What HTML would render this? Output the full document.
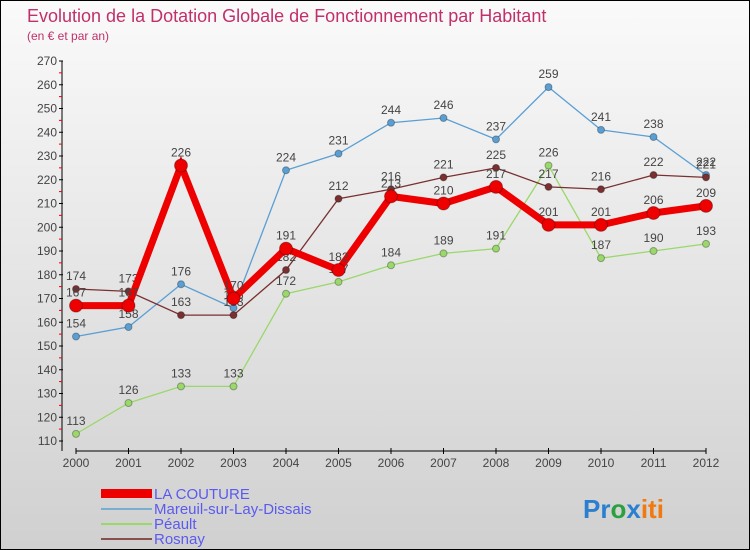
<!DOCTYPE html>
<html><head><meta charset="utf-8"><style>
body{margin:0}
#c{width:750px;height:550px;position:relative;box-sizing:border-box;border:1px solid #000;background:linear-gradient(#fafafa,#d0d0d0);font-family:"Liberation Sans",sans-serif;overflow:hidden}
svg text{font-family:"Liberation Sans",sans-serif}
</style></head><body>
<div id="c">
<svg id="s" width="750" height="550">
<text x="26" y="21" font-size="18" fill="#c0306a">Evolution de la Dotation Globale de Fonctionnement par Habitant</text>
<text x="26" y="39" font-size="12" fill="#c0306a">(en € et par an)</text>
<g id="axes"></g><g id="plot"></g>
<g font-size="15" fill="#5a5af0">
<rect x="100" y="488" width="51" height="9" fill="#e00"/>
<text x="153" y="498" fill="#5a5af0">LA COUTURE</text>
<rect x="100" y="507" width="51" height="2" fill="#7aaed0"/>
<text x="153" y="513" fill="#5a5af0">Mareuil-sur-Lay-Dissais</text>
<rect x="100" y="522" width="51" height="2" fill="#9ad86a"/>
<text x="153" y="528" fill="#5a5af0">Péault</text>
<rect x="100" y="537" width="51" height="2" fill="#8a5050"/>
<text x="153" y="543" fill="#5a5af0">Rosnay</text>
</g>
<text x="582" y="517" font-size="26" font-weight="bold"><tspan fill="#2a7fd0">Pr</tspan><tspan fill="#2aa040">o</tspan><tspan fill="#2a7fd0">x</tspan><tspan fill="#f07a10">iti</tspan></text>
</svg>
</div>
<script>
const years=[2000,2001,2002,2003,2004,2005,2006,2007,2008,2009,2010,2011,2012];
const yTicks=[110,120,130,140,150,160,170,180,190,200,210,220,230,240,250,260,270];
const coutureVals=[167,167,226,170,191,182,213,210,217,201,201,206,209];
const mareuilVals=[154,158,176,166,224,231,244,246,237,259,241,238,222];
const peaultVals=[113,126,133,133,172,177,184,189,191,226,187,190,193];
const rosnayVals=[174,173,163,163,182,212,216,221,225,217,216,222,221];
const NS="http://www.w3.org/2000/svg";
function xs(i){return 75+i*52.5;}
function ys(v){return 440-(v-110)*380/160;}
function mk(tag,attrs,parent){const e=document.createElementNS(NS,tag);for(const k in attrs)e.setAttribute(k,attrs[k]);parent.appendChild(e);return e;}
const axes=document.getElementById('axes'),plot=document.getElementById('plot');
let yl=mk('line',{x1:61,y1:60,x2:61,y2:450,stroke:'#000'},axes);


let xl=mk('line',{x1:75,y1:450,x2:705,y2:450,stroke:'#000'},axes);


yTicks.forEach(v=>{const y=ys(v);
 mk('line',{x1:58,y1:y,x2:62,y2:y,stroke:'#000'},axes);
 if(v<270)mk('line',{x1:58,y1:y-11.9,x2:61,y2:y-11.9,stroke:'#e00'},axes);
 const t=mk('text',{x:56,y:y+4,'font-size':12,fill:'#444','text-anchor':'end'},axes);t.textContent=v;
 
 });
years.forEach((yr,i)=>{const xx=xs(i);
 mk('line',{x1:xx,y1:447,x2:xx,y2:453,stroke:'#000'},axes);
 const t=mk('text',{x:xx,y:466,'font-size':12,fill:'#444','text-anchor':'middle'},axes);t.textContent=yr;
 
 });
function series(vals,color,w,r,name){
 const g=mk('g',{},plot);
 
 
 mk('polyline',{points:vals.map((v,i)=>xs(i)+','+ys(v)).join(' '),fill:'none',stroke:color,'stroke-width':w},g);
 vals.forEach((v,i)=>{const p=mk('circle',{cx:xs(i),cy:ys(v),r:r,fill:color,stroke:'rgba(0,0,0,0.3)'},g);
  
  
  const t=mk('text',{x:xs(i),y:ys(v)-9,'font-size':12,fill:'#444','text-anchor':'middle'},g);t.textContent=v;
  
  });
}
series(peaultVals,'#9ad86a',1.3,3.5,'series-peault');
series(mareuilVals,'#5a9fd4',1.3,3.5,'series-mareuil');
series(rosnayVals,'#7a3030',1.3,3.5,'series-rosnay');
series(coutureVals,'#e00',7,6.5,'series-la-couture');
</script>
</body></html>
